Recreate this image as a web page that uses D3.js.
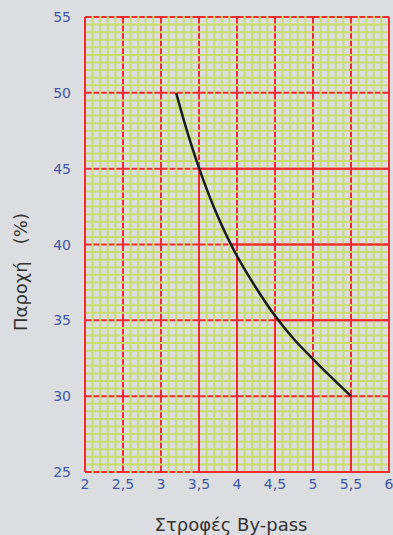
<!DOCTYPE html>
<html>
<head>
<meta charset="utf-8">
<script src="https://cdn.jsdelivr.net/npm/d3@7"></script>
<style>
  html, body { margin: 0; padding: 0; background: #dcdde0; }
  svg { display: block; }
  text { font-family: "DejaVu Sans", sans-serif; }
</style>
</head>
<body>
<svg id="chart" width="393" height="535"></svg>
<script>
// Flow curve: by-pass turns vs. flow (%)
const turns = [3.2, 3.3, 3.4, 3.5, 3.6, 3.7, 3.8, 3.9, 4.0, 4.25, 4.5, 4.75, 5.0, 5.25, 5.5];
const flow  = [50, 48.2, 46.55, 45.05, 43.67, 42.41, 41.26, 40.21, 39.24, 37.15, 35.3, 33.75, 32.45, 31.2, 30];

const xTicks = [2, 2.5, 3, 3.5, 4, 4.5, 5, 5.5, 6];
const xTickLabels = ["2", "2,5", "3", "3,5", "4", "4,5", "5", "5,5", "6"];
const yTicks = [25, 30, 35, 40, 45, 50, 55];
const yTickLabels = ["25", "30", "35", "40", "45", "50", "55"];

// Major lines drawn solid on the region under the curve
const solidRows = [45, 40, 35];
const solidCols = [3.5, 4, 4.5, 5, 5.5];

const x = d3.scaleLinear().domain([2, 6]).range([85, 389]);
const y = d3.scaleLinear().domain([25, 55]).range([472, 17]);

const svg = d3.select("#chart");
const RED = "#ee2b2f", YEL = "#c9dd6f";

// Crossing helpers from the curve data
function xAtFlow(v) {
  for (let i = 0; i < flow.length - 1; i++) {
    const a = flow[i], b = flow[i + 1];
    if ((a - v) * (b - v) <= 0) return turns[i] + (v - a) / (b - a) * (turns[i + 1] - turns[i]);
  }
  return turns[turns.length - 1];
}
function flowAtX(v) {
  for (let i = 0; i < turns.length - 1; i++) {
    if (v >= turns[i] && v <= turns[i + 1])
      return flow[i] + (v - turns[i]) / (turns[i + 1] - turns[i]) * (flow[i + 1] - flow[i]);
  }
  return flow[flow.length - 1];
}

const [x0, x1] = x.domain(), [y0, y1] = y.domain();

// Major red grid, lower layer (broken by the minor grid)
const lower = svg.append("g").attr("stroke", RED).attr("stroke-width", 2);
lower.selectAll("line.v").data(xTicks).join("line")
  .attr("x1", d => x(d)).attr("x2", d => x(d))
  .attr("y1", y(y0)).attr("y2", y(y1));
lower.selectAll("line.h").data(yTicks).join("line")
  .attr("y1", d => y(d)).attr("y2", d => y(d))
  .attr("x1", x(x0)).attr("x2", x(x1));

// Minor yellow-green grid
const minorX = d3.range(20, 61).map(i => i / 10).filter(v => Math.abs(v * 2 - Math.round(v * 2)) > 1e-6);
const minorY = d3.range(50, 111).map(i => i / 2).filter(v => v % 5 !== 0);
const minor = svg.append("g").attr("stroke", YEL).attr("stroke-width", 2);
minor.selectAll("line.v").data(minorX).join("line")
  .attr("x1", d => x(d)).attr("x2", d => x(d))
  .attr("y1", y(y0) + 1).attr("y2", y(y1) - 1);
minor.selectAll("line.h").data(minorY).join("line")
  .attr("y1", d => y(d)).attr("y2", d => y(d))
  .attr("x1", x(x0) + 1).attr("x2", x(x1) - 1);

// Major red grid, upper solid segments
const upper = svg.append("g").attr("stroke", RED).attr("stroke-width", 2);
upper.selectAll("line.h").data(solidRows).join("line")
  .attr("y1", d => y(d)).attr("y2", d => y(d))
  .attr("x1", d => x(xAtFlow(d))).attr("x2", x(x1));
upper.selectAll("line.v").data(solidCols).join("line")
  .attr("x1", d => x(d)).attr("x2", d => x(d))
  .attr("y1", d => y(flowAtX(d))).attr("y2", y(y0));
// right and bottom frame under the curve
upper.append("line").attr("x1", x(x1)).attr("x2", x(x1)).attr("y1", y(flow[0])).attr("y2", y(y0) + 1);
upper.append("line").attr("x1", x(3.5)).attr("x2", x(x1) + 1).attr("y1", y(y0)).attr("y2", y(y0));

// Curve
const line = d3.line().x((d, i) => x(turns[i])).y(d => y(d)).curve(d3.curveCatmullRom);
svg.append("path").datum(flow)
  .attr("d", line)
  .attr("fill", "none").attr("stroke", "#1b1b1b").attr("stroke-width", 2.5);

// Tick labels
const TXT = "#3d58a6";
svg.append("g").selectAll("text").data(yTicks).join("text")
  .attr("x", 71).attr("y", d => y(d)).attr("dy", "0.36em")
  .attr("text-anchor", "end").attr("fill", TXT).attr("font-size", 14)
  .text((d, i) => yTickLabels[i]);
svg.append("g").selectAll("text").data(xTicks).join("text")
  .attr("x", d => x(d)).attr("y", 489)
  .attr("text-anchor", "middle").attr("fill", TXT).attr("font-size", 14)
  .text((d, i) => xTickLabels[i]);

// Axis titles
svg.append("text")
  .attr("x", 231).attr("y", 531)
  .attr("text-anchor", "middle").attr("fill", "#333").attr("font-size", 18)
  .text("Στροφές By-pass");
svg.append("text")
  .attr("transform", "translate(27,272) rotate(-90)")
  .attr("text-anchor", "middle").attr("fill", "#333").attr("font-size", 18)
  .style("white-space", "pre")
  .text("Παροχή   (%)");
</script>
</body>
</html>
